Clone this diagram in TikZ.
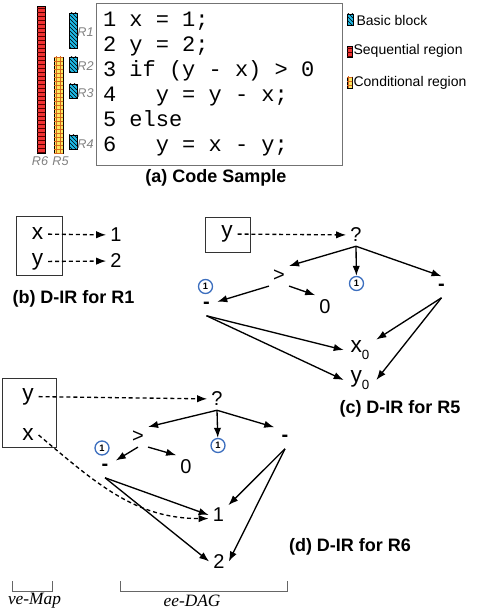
\documentclass[tikz,border=0pt]{standalone}
\usepackage{fontspec}
\setmainfont{Liberation Sans}
\newfontfamily\codefont{Liberation Mono}
\newfontfamily\brfont{Liberation Serif}
\usetikzlibrary{arrows.meta,patterns}
\definecolor{bbcyan}{RGB}{30,185,230}
\definecolor{seqred}{RGB}{240,50,50}
\definecolor{condyel}{RGB}{252,230,95}
\definecolor{condgrid}{RGB}{215,105,30}
\definecolor{onering}{RGB}{60,110,190}
\newcommand{\subz}[1]{#1\raisebox{-0.55ex}{\fontsize{10}{10}\selectfont 0}}
\newcommand{\fixspace}{\spaceskip=0.6em\relax}

\begin{document}
\begin{tikzpicture}[x=0.75pt, y=-0.75pt,
  var/.style={font=\fontsize{17}{20}\selectfont, inner sep=3.5pt},
  val/.style={font=\fontsize{15}{18}\selectfont, inner sep=3pt},
  op/.style={font=\fontsize{15}{18}\selectfont\bfseries, minimum size=15.75pt, inner sep=0pt},
  one/.style={circle, draw=onering, line width=1pt, minimum size=10.5pt, inner sep=0pt, font=\fontsize{7}{7}\selectfont\bfseries},
  subcap/.style={font=\fontsize{13.5}{16}\selectfont\bfseries},
  regname/.style={font=\fontsize{9.5}{11}\selectfont\itshape, text=gray, inner sep=1pt},
  keytext/.style={font=\fontsize{10.5}{12}\selectfont, anchor=west, inner sep=1pt},
  brlabel/.style={font=\brfont\itshape\fontsize{13}{15}\selectfont},
  arr/.style={-{Latex[length=7.5pt,width=5.5pt]}, line width=1pt},
  darr/.style={arr, dash pattern=on 3pt off 2.2pt},
  mapbox/.style={draw=black!80, line width=0.7pt},
  bracket/.style={draw=black!60, line width=0.7pt}]
\useasboundingbox (0,0) rectangle (479,613);

% (a) regions beside the code
\draw[fill=seqred, postaction={pattern=horizontal lines, pattern color=red!35!black}] (37,6) rectangle (45,153);
\draw[fill=condyel, postaction={pattern=grid, pattern color=condgrid}] (54,57) rectangle (63,153);
\foreach \ya/\yb in {13/48, 57/72, 84/98, 135/149}
  \draw[fill=bbcyan, postaction={pattern=north west lines}] (69,\ya) rectangle (77,\yb);
\node[regname] (r1) at (85.5,32) {R1};
\node[regname] (r2) at (85.5,66) {R2};
\node[regname] (r3) at (85.5,93.5) {R3};
\node[regname] (r4) at (85.5,144.5) {R4};
\node[regname] (r6) at (40,161.5) {R6};
\node[regname] (r5) at (60.5,161.5) {R5};

\node[draw=black!55, line width=0.7pt, minimum width=184.5pt, minimum height=121.5pt,
  text width=174pt, inner xsep=5pt, align=left,
  font=\codefont\fontsize{16.5}{18.7}\selectfont] (code) at (219,84)
  {\fixspace 1 x = 1;\\2 y = 2;\\3 if (y - x) > 0\\4\ \ \ y = y - x;\\5 else\\6\ \ \ y = x - y;};

% legend
\draw[fill=bbcyan, postaction={pattern=north west lines}] (347,14) rectangle (353,25);
\node[keytext] (kbb) at (355,20) {Basic block};
\draw[fill=seqred, postaction={pattern=horizontal lines, pattern color=red!35!black}] (347,46) rectangle (352,57);
\node[keytext] (kseq) at (352,51) {Sequential region};
\draw[fill=condyel, postaction={pattern=grid, pattern color=condgrid}] (347,77) rectangle (352,88);
\node[keytext] (kcond) at (352,83) {Conditional region};

\node[subcap] (capa) at (216,178) {(a) Code Sample};

% (b) R1
\node[mapbox, minimum width=34.5pt, minimum height=44.25pt] (mapb) at (39,245.5) {};
\node[var] (xb) at (37.5,234) {x};
\node[var] (yb) at (37.5,261.5) {y};
\node[val] (oneb) at (116,235) {1};
\node[val] (twob) at (116,261) {2};
\draw[darr] (xb) -- (oneb);
\draw[darr] (yb) -- (twob);
\node[subcap] (capb) at (73.5,299) {(b) D-IR for R1};

% (c) R5
\node[mapbox, minimum width=33.75pt, minimum height=26.25pt] (mapc) at (227.5,234.5) {};
\node[var] (yc) at (227,234) {y};
\node[val] (qc) at (356,235) {?};
\node[val] (gtc) at (279,276) {>};
\node[one] (onec1) at (205.5,286.5) {1};
\node[one] (onec2) at (356.5,283.5) {1};
\node[op] (mlc) at (206.5,305) {-};
\node[op] (mrc) at (441.5,287) {-};
\node[val] (zeroc) at (325,306.5) {0};
\node[var, inner sep=5pt] (xc) at (360,350) {\subz{x}};
\node[var, inner sep=5pt] (yc0) at (360,380) {\subz{y}};
\draw[darr] (yc) -- (qc);
\draw[arr] (qc.south) -- (gtc.north east);
\draw[arr] (qc.south) -- (onec2);
\draw[arr] (qc.south) -- (mrc.north);
\draw[arr] (gtc.south west) -- (mlc);
\draw[arr] (gtc.south east) -- (zeroc.north west);
\draw[arr] (mlc.south) -- (xc.west);
\draw[arr] (mlc.south) -- (yc0.west);
\draw[arr] (mrc.south) -- (xc);
\draw[arr] (mrc.south) -- (yc0.east);
\node[subcap] (capc) at (400,409) {(c) D-IR for R5};

% (d) R6
\node[mapbox, minimum width=40.5pt, minimum height=51.75pt] (mapd) at (29,412.5) {};
\node[var] (yd) at (28,396.5) {y};
\node[var] (xd) at (28,435) {x};
\node[val] (qd) at (217,399) {?};
\node[val] (gtd) at (138,437) {>};
\node[one] (oned1) at (102,448) {1};
\node[one] (oned2) at (218,445.5) {1};
\node[op] (mld) at (105,467) {-};
\node[op] (mrd) at (285,438) {-};
\node[val] (zerod) at (186,466.5) {0};
\node[val] (oned) at (218.5,515) {1};
\node[val] (twod) at (219,561.5) {2};
\draw[darr] (yd) -- (qd);
\draw[arr] (qd.south) -- (gtd.north east);
\draw[arr] (qd.south) -- (oned2);
\draw[arr] (qd.south) -- (mrd.north west);
\draw[arr] (gtd.south) -- (mld);
\draw[arr] (gtd.south east) -- (zerod.north west);
\draw[arr] (mld.south) -- (oned.west);
\draw[arr] (mld.south) -- (twod.west);
\draw[arr] (mrd.south) -- (oned);
\draw[arr] (mrd.south) -- (twod.east);
\draw[darr] (xd.east) to[out=-40, in=180] (oned.200);
\node[subcap] (capd) at (350,547) {(d) D-IR for R6};

% ve-Map / ee-DAG brackets
\draw[bracket] (12,581) -- (12,591) -- (52,591) -- (52,581);
\draw[bracket] (120,581) -- (120,591) -- (287,591) -- (287,581);
\node[brlabel] (vemap) at (34.5,601) {ve-Map};
\node[brlabel] (eedag) at (192,601) {ee-DAG};
\end{tikzpicture}
\end{document}
